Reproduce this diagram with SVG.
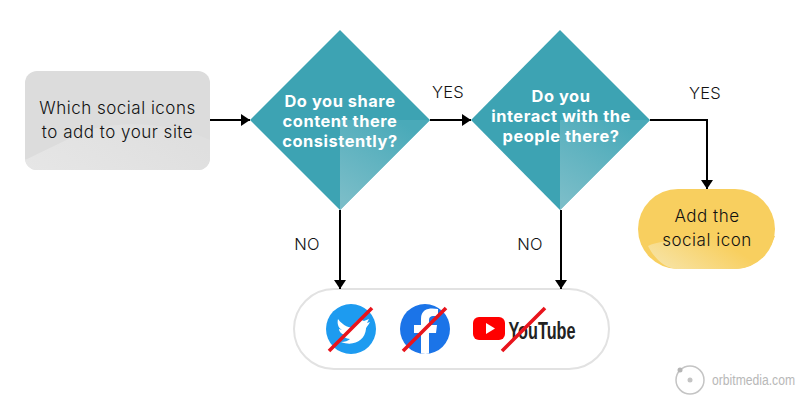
<svg xmlns="http://www.w3.org/2000/svg" width="800" height="400" viewBox="0 0 800 400">
<style>
text{font-family:"Inter","Liberation Sans",sans-serif;text-anchor:middle}
.q{font-size:16.4px;font-weight:700;fill:#fff;letter-spacing:.55px}
.d{font-size:17px;font-weight:300;fill:#111;letter-spacing:.5px}
.l{font-size:16.500px;font-weight:300;fill:#111;letter-spacing:.3px}
.c{fill:none;stroke:#000;stroke-width:2}
.x{stroke:#e8141c;stroke-width:3.6}
</style>
<defs>
<marker id="a" markerUnits="userSpaceOnUse" markerWidth="10" markerHeight="12" refX="9" refY="6" orient="auto"><path d="M0 0L9 6L0 12Z" fill="#000"/></marker>
<linearGradient id="t" x1="0.2" y1="1" x2="0.8" y2="0.1"><stop offset="0" stop-color="#7abdc8"/><stop offset="1" stop-color="#4aaab9"/></linearGradient>
<linearGradient id="g" x1="0" y1="1" x2="1" y2="0.6"><stop offset="0" stop-color="#e6e6e6"/><stop offset="1" stop-color="#dfdfdf"/></linearGradient>
<linearGradient id="y" x1="0" y1="1" x2="1" y2="0.6"><stop offset="0" stop-color="#f7e6ae"/><stop offset="0.8" stop-color="#f8cf5f"/></linearGradient>
</defs>
<rect width="800" height="400" fill="#fff"/>
<g id="start">
<rect x="25" y="71" width="185" height="99" rx="12" fill="#dcdcdc"/>
<path d="M25 160L85 131C120 120 170 122 210 140V158A12 12 0 0 1 198 170H37A12 12 0 0 1 25 158Z" fill="url(#g)"/>
<text class="d" x="117.500" y="114">Which social icons</text>
<text class="d" x="117.500" y="138">to add to your site</text>
</g>
<g id="q1">
<path d="M340 30L430 120L340 210L250 120Z" fill="#3da3b3"/>
<path d="M340 210L340 120L430 120Z" fill="url(#t)"/>
<text class="q" x="340" y="107">Do you share</text>
<text class="q" x="340" y="127">content there</text>
<text class="q" x="340" y="147">consistently?</text>
</g>
<g id="q2">
<path d="M560 30L650 120L560 210L471 120Z" fill="#3da3b3"/>
<path d="M560 210L560 120L650 120Z" fill="url(#t)"/>
<text class="q" x="561" y="102">Do you</text>
<text class="q" x="561" y="122">interact with the</text>
<text class="q" x="561" y="142">people there?</text>
</g>
<g id="add">
<rect x="638" y="189" width="137" height="80" rx="40" fill="#f8cf5f"/>
<path d="M648 246C665 238 700 240 775 236C768 256 752 269 735 269H678C665 269 654 258 648 246Z" fill="url(#y)"/>
<text class="d" x="707" y="222">Add the</text>
<text class="d" x="707" y="246">social icon</text>
</g>
<g id="icons">
<rect x="294" y="289" width="315" height="80" rx="40" fill="#fff" stroke="#e2e2e2" stroke-width="2"/>
<circle cx="351" cy="329" r="25" fill="#1d9bf0"/>
<path d="M338 319C343 326 350 328 354 328C353 322 359 318 364 321L369 319L367 323L370 322C368 326 366 327 366 329C365 340 354 347 341 342C345 342 348 341 350 339C346 339 343 336 343 335H345C341 334 339 331 339 329L342 330C338 328 337 323 338 319Z" fill="#fff"/>
<circle cx="425" cy="329" r="25" fill="#1b74e8"/>
<path d="M414 333H421V353.500C424 354 427 354 429 353.500V333H436L437 325H429V320C429 317 431 316 433 316H438V309C432 308 421 307 421 319V325H414Z" fill="#fff"/>
<rect x="473" y="317" width="32" height="23" rx="6" fill="#f00"/>
<path d="M486 323L495 328.500L486 334Z" fill="#fff"/>
<text x="542" y="339" font-size="24" font-weight="700" fill="#222" style="font-family:'Liberation Sans',sans-serif" textLength="67" lengthAdjust="spacingAndGlyphs">YouTube</text>
<path class="x" d="M329 351L372 308M403 351L446 308M502 351L545 308"/>
</g>
<g id="connectors">
<path class="c" d="M210 120H250" marker-end="url(#a)"/>
<path class="c" d="M430 120H471" marker-end="url(#a)"/>
<path class="c" d="M650 120H707V189" marker-end="url(#a)"/>
<path class="c" d="M340 210V289" marker-end="url(#a)"/>
<path class="c" d="M561 210V289" marker-end="url(#a)"/>
</g>
<g id="labels">
<text class="l" x="448" y="98">YES</text>
<text class="l" x="705" y="99">YES</text>
<text class="l" x="307" y="250">NO</text>
<text class="l" x="530" y="250">NO</text>
</g>
<g id="logo">
<circle cx="690" cy="380" r="14" fill="none" stroke="#c4c4c4" stroke-width="1.500"/>
<circle cx="680" cy="370" r="2.500" fill="#b5b5b5"/>
<circle cx="690" cy="380" r="2.500" fill="#c4c4c4"/>
<text transform="translate(712 385) scale(.85 1)" font-size="14.300" fill="#b8b8b8" style="font-family:'Liberation Sans',sans-serif;text-anchor:start">orbitmedia.com</text>
</g>
</svg>
